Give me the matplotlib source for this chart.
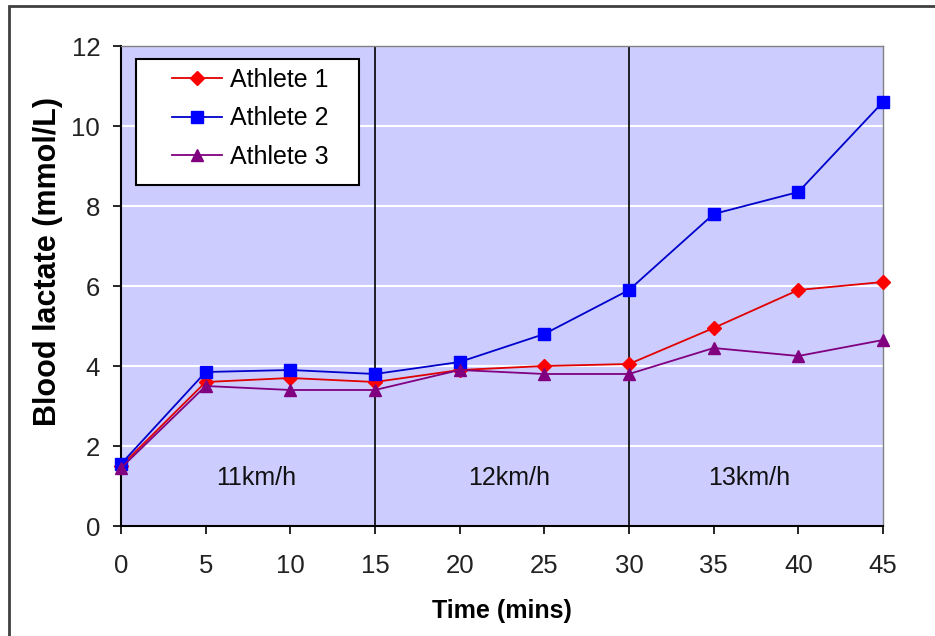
import matplotlib
matplotlib.use("Agg")
import matplotlib.pyplot as plt
from matplotlib.patches import Rectangle

plt.rcParams['font.family'] = ['Liberation Sans', 'DejaVu Sans']

# Data
time = [0, 5, 10, 15, 20, 25, 30, 35, 40, 45]
athlete1 = [1.5, 3.6, 3.7, 3.6, 3.9, 4.0, 4.05, 4.95, 5.9, 6.1]
athlete2 = [1.55, 3.85, 3.9, 3.8, 4.1, 4.8, 5.9, 7.8, 8.35, 10.6]
athlete3 = [1.45, 3.5, 3.4, 3.4, 3.9, 3.8, 3.8, 4.45, 4.25, 4.65]
stage_bounds = [15, 30]
stage_labels = ["11km/h", "12km/h", "13km/h"]
stage_label_x = [8, 22.9, 37.1]

fig = plt.figure(figsize=(9.35, 6.36), dpi=100)
ax = fig.add_axes([121/935, 1 - 526/636, 762/935, 480/636])
ax.set_facecolor('#CCCCFF')

# outer frame (cut off at right and bottom like the source)
fig.patches.append(Rectangle((8.5/935, -0.1), 1.2, 1 - 6/636 + 0.1,
                             transform=fig.transFigure, fill=False,
                             edgecolor='#404040', linewidth=2))

ax.set_xlim(0, 45)
ax.set_ylim(0, 12)
ax.set_xticks(time)
ax.set_yticks(range(0, 13, 2))
ax.yaxis.grid(True, color='white', linewidth=1.5)
ax.set_axisbelow(True)

for b in stage_bounds:
    ax.axvline(b, color='black', linewidth=1.2, zorder=1)

series = [
    (athlete1, 'Athlete 1', '#E00000', '#FF0000', 'D', 7),
    (athlete2, 'Athlete 2', '#0000CC', '#0000FF', 's', 9),
    (athlete3, 'Athlete 3', '#800080', '#800080', '^', 9),
]
for vals, name, lc, mc, mk, ms in series:
    ax.plot(time, vals, color=lc, marker=mk, markersize=ms, markerfacecolor=mc,
            markeredgecolor=mc, linewidth=1.3, label=name, zorder=3, clip_on=False)

for x, s in zip(stage_label_x, stage_labels):
    ax.text(x, 1.2, s, ha='center', va='center', fontsize=18, color='#111111')

ax.set_xlabel('Time (mins)', fontsize=18, fontweight='bold', labelpad=15)
ax.set_ylabel('Blood lactate (mmol/L)', fontsize=22, fontweight='bold')
ax.yaxis.set_label_coords((63 - 121)/762, (526 - 262)/480)
ax.tick_params(labelsize=18.5, length=6, width=1.2, direction='out', colors='black', labelcolor='#222222')
ax.tick_params(axis='x', pad=14)
ax.tick_params(axis='y', pad=9)

for side in ['left', 'bottom']:
    ax.spines[side].set_color('black')
    ax.spines[side].set_linewidth(1.5)
for side in ['top', 'right']:
    ax.spines[side].set_color('#808080')
    ax.spines[side].set_linewidth(1)

# legend box drawn by hand so the padding can differ per side
ax.add_patch(Rectangle((15/762, (526 - 185)/480), 223/762, 126/480,
                       transform=ax.transAxes, facecolor='white',
                       edgecolor='black', linewidth=1.5, zorder=5))
leg = ax.legend(loc='upper left', bbox_to_anchor=((172 - 121)/762, (526 - 68)/480),
                fontsize=18, frameon=False, borderaxespad=0, borderpad=0,
                handlelength=2.0, labelspacing=0.57, handletextpad=0.3)
leg.set_zorder(6)

fig.savefig('out.png', dpi=100, facecolor='white')
